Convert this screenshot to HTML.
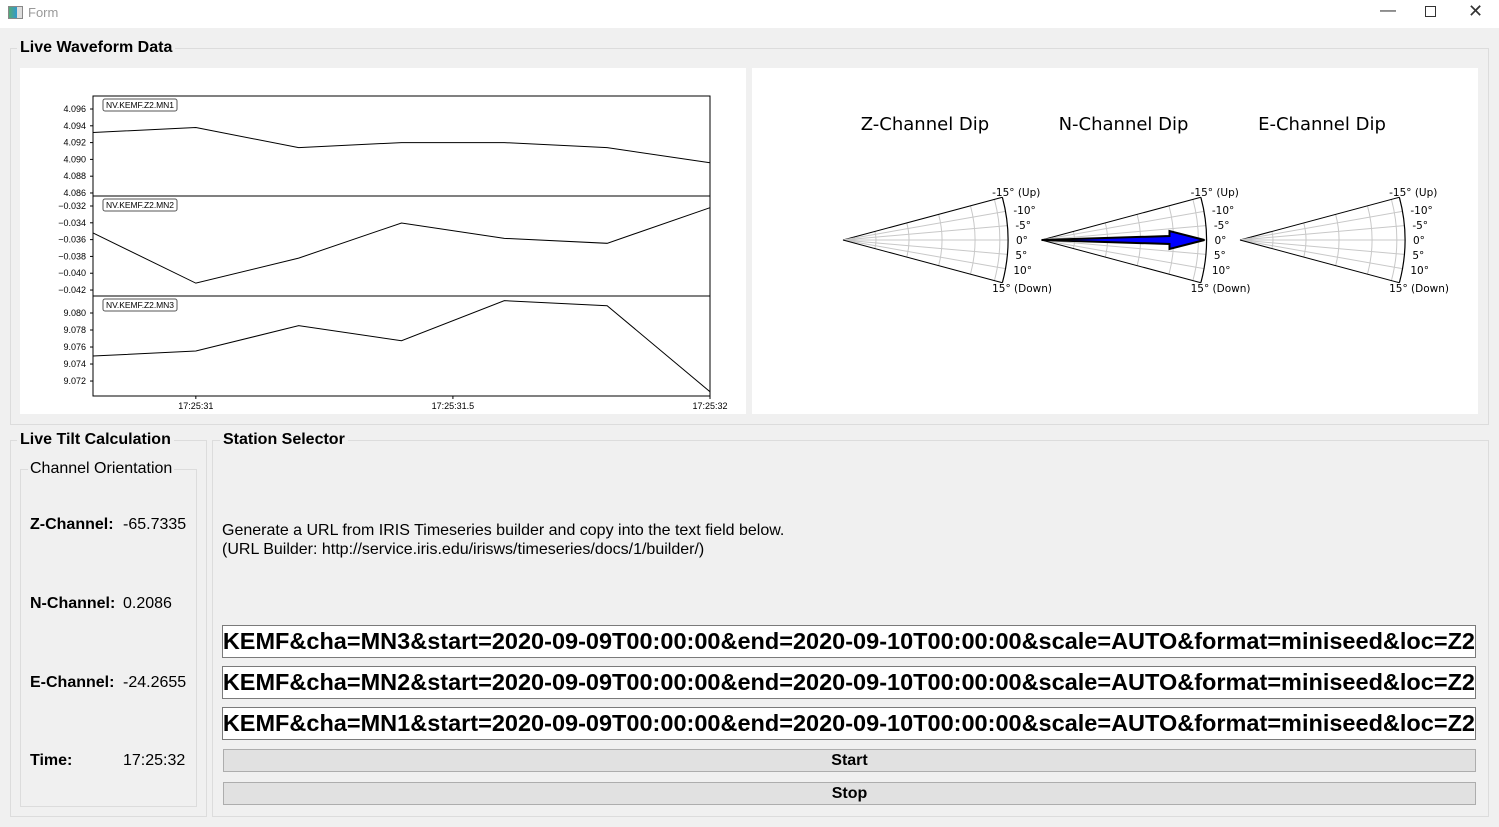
<!DOCTYPE html>
<html><head><meta charset="utf-8"><style>
body{margin:0;width:1499px;height:827px;background:#f0f0f0;font-family:"Liberation Sans",sans-serif;position:relative;overflow:hidden}
.abs{position:absolute}
.titlebar{left:0;top:0;width:1499px;height:28px;background:#fff}
.gb{position:absolute;border:1px solid #dcdcdc}
.gt{position:absolute;background:#f0f0f0;font-weight:bold;font-size:16px;padding:0 3px;color:#000}
.lbl{position:absolute;font-size:16px;color:#000}
.url{position:absolute;left:222px;width:1254px;height:33px;background:#fff;border:1px solid #7a7a7a;box-sizing:border-box;overflow:hidden;white-space:nowrap;font-weight:bold;font-size:23.5px;line-height:31px;direction:rtl;text-align:left;padding-left:2px}
.btn{position:absolute;left:223px;width:1253px;height:23px;background:#e1e1e1;border:1px solid #adadad;box-sizing:border-box;text-align:center;font-weight:bold;font-size:16px;line-height:21px}
</style></head><body>
<div class="abs titlebar">
  <div class="abs" style="left:8px;top:6px;width:13px;height:11px;border:1px solid #888;background:linear-gradient(90deg,#5a7 0,#39c 60%,#ddd 60%)"></div>
  <div class="abs" style="left:28px;top:5px;font-size:13px;color:#999">Form</div>
  <div class="abs" style="left:1380px;top:2px;font-size:16px;color:#333">—</div>
  <div class="abs" style="left:1425px;top:6px;width:9px;height:9px;border:1px solid #333"></div>
  <div class="abs" style="left:1468px;top:1px;font-size:18px;color:#333">✕</div>
</div>

<div class="gb" style="left:10px;top:48px;width:1477px;height:375px"></div>
<div class="gt" style="left:17px;top:39px">Live Waveform Data</div>
<div class="abs" style="left:20px;top:68px;width:726px;height:346px;background:#fff">
<svg id="wf" width="726" height="346"></svg>
</div>
<div class="abs" style="left:752px;top:68px;width:726px;height:346px;background:#fff">
<svg id="dip" width="726" height="346"></svg>
</div>

<div class="gb" style="left:10px;top:440px;width:195px;height:375px"></div>
<div class="gt" style="left:17px;top:431px">Live Tilt Calculation</div>
<div class="gb" style="left:20px;top:469px;width:175px;height:336px"></div>
<div class="lbl" style="left:28px;top:460px;background:#f0f0f0;padding:0 2px">Channel Orientation</div>
<div class="lbl" style="left:30px;top:516px;font-weight:bold">Z-Channel:</div>
<div class="lbl" style="left:123px;top:516px">-65.7335</div>
<div class="lbl" style="left:30px;top:595px;font-weight:bold">N-Channel:</div>
<div class="lbl" style="left:123px;top:595px">0.2086</div>
<div class="lbl" style="left:30px;top:674px;font-weight:bold">E-Channel:</div>
<div class="lbl" style="left:123px;top:674px">-24.2655</div>
<div class="lbl" style="left:30px;top:752px;font-weight:bold">Time:</div>
<div class="lbl" style="left:123px;top:752px">17:25:32</div>

<div class="gb" style="left:212px;top:440px;width:1275px;height:375px"></div>
<div class="gt" style="left:220px;top:431px">Station Selector</div>
<div class="lbl" style="left:222px;top:521px;line-height:19px">Generate a URL from IRIS Timeseries builder and copy into the text field below.<br>(URL Builder: http://service.iris.edu/irisws/timeseries/docs/1/builder/)</div>
<div class="url" style="top:625px">&#x202A;net=NV&amp;sta=KEMF&amp;cha=MN3&amp;start=2020-09-09T00:00:00&amp;end=2020-09-10T00:00:00&amp;scale=AUTO&amp;format=miniseed&amp;loc=Z2&#x202C;</div>
<div class="url" style="top:666px">&#x202A;net=NV&amp;sta=KEMF&amp;cha=MN2&amp;start=2020-09-09T00:00:00&amp;end=2020-09-10T00:00:00&amp;scale=AUTO&amp;format=miniseed&amp;loc=Z2&#x202C;</div>
<div class="url" style="top:707px">&#x202A;net=NV&amp;sta=KEMF&amp;cha=MN1&amp;start=2020-09-09T00:00:00&amp;end=2020-09-10T00:00:00&amp;scale=AUTO&amp;format=miniseed&amp;loc=Z2&#x202C;</div>
<div class="btn" style="top:749px">Start</div>
<div class="btn" style="top:782px">Stop</div>

<script>
const times=[30.8,31.0,31.2,31.4,31.6,31.8,32.0];
const labels=["NV.KEMF.Z2.MN1","NV.KEMF.Z2.MN2","NV.KEMF.Z2.MN3"];
const mn1=[4.0932,4.0938,4.0914,4.0920,4.0920,4.0914,4.0896];
const mn2=[-0.03521,-0.04118,-0.03820,-0.03402,-0.03585,-0.03644,-0.0322];
const mn3=[9.07494,9.07553,9.07851,9.07674,9.08145,9.08086,9.07074];
const yTicks1=[4.086,4.088,4.090,4.092,4.094,4.096];
const yTicks2=[-0.042,-0.040,-0.038,-0.036,-0.034,-0.032];
const yTicks3=[9.072,9.074,9.076,9.078,9.080];
const xTicks=[31,31.5,32];
const xTickLabels=["17:25:31","17:25:31.5","17:25:32"];
const yLims=[[4.08564,4.09755],[-0.04271,-0.03081],[9.07024,9.0820]];
const dipChannels=["Z-Channel Dip","N-Channel Dip","E-Channel Dip"];
const dipValues=[null,0,null];
const dipTicks=[-15,-10,-5,0,5,10,15];
const dipTickLabels=["-15° (Up)","-10°","-5°","0°","5°","10°","15° (Down)"];

const NS="http://www.w3.org/2000/svg";
function mk(p,t,a){const e=document.createElementNS(NS,t);for(const k in a)e.setAttribute(k,a[k]);p.appendChild(e);return e;}
const wf=document.getElementById('wf');
const L=73,R=690,T0=28,H=100;
const xs=t=>L+(t-30.8)/(32.0-30.8)*(R-L);
const series=[mn1,mn2,mn3],ticks=[yTicks1,yTicks2,yTicks3];
series.forEach((s,i)=>{
  const top=T0+i*H,lim=yLims[i];
  const ys=v=>top+H-(v-lim[0])/(lim[1]-lim[0])*H;
  const ax=mk(wf,'rect',{x:L,y:top,width:R-L,height:H,fill:'none',stroke:'#000','stroke-width':1});
  
  
  ticks[i].forEach(v=>{
    const y=ys(v);
    mk(wf,'line',{x1:L-3,x2:L,y1:y,y2:y,stroke:'#000'});
    const tx=mk(wf,'text',{x:L-7,y:y+3,'text-anchor':'end','font-size':9,'font-family':'Liberation Sans Narrow, Liberation Sans, sans-serif'});
    tx.textContent=(v<0?'\u2212'+(-v).toFixed(3):v.toFixed(3));
    
    
  });
  const pl=mk(wf,'polyline',{points:s.map((v,j)=>xs(times[j])+','+ys(v)).join(' '),fill:'none',stroke:'#000','stroke-width':1});
  
  
  const lb=mk(wf,'rect',{x:L+10,y:top+3,width:74,height:12,rx:2,fill:'#fff',stroke:'#555'});
  
  
  const lt=mk(wf,'text',{x:L+13,y:top+12,'font-size':8.5,textLength:68,'font-family':'Liberation Sans Narrow, Liberation Sans, sans-serif'});
  lt.textContent=labels[i];
  
  
});
xTicks.forEach((t,i)=>{
  const x=xs(t),yb=T0+3*H;
  mk(wf,'line',{x1:x,x2:x,y1:yb,y2:yb+3,stroke:'#000'});
  const tx=mk(wf,'text',{x:x,y:yb+13,'text-anchor':'middle','font-size':9,'font-family':'Liberation Sans Narrow, Liberation Sans, sans-serif'});
  tx.textContent=xTickLabels[i];
  
  
});

const dip=document.getElementById('dip');
const rad=165,cy=172;
dipChannels.forEach((name,i)=>{
  const cx=91+i*198.5;
  const g=mk(dip,'g',{});
  
  
  const pt=(a,r)=>[cx+r*Math.cos(a*Math.PI/180),cy+r*Math.sin(a*Math.PI/180)];
  [0.2,0.4,0.6,0.8,0.95].forEach(f=>{
    const a=pt(-15,rad*f),b=pt(15,rad*f);
    mk(g,'path',{d:`M${a[0]},${a[1]} A${rad*f},${rad*f} 0 0 1 ${b[0]},${b[1]}`,fill:'none',stroke:'#c8c8c8','stroke-width':1});
  });
  dipTicks.forEach(a=>{const p=pt(a,rad);mk(g,'line',{x1:cx,y1:cy,x2:p[0],y2:p[1],stroke:(Math.abs(a)==15?'#000':'#c8c8c8'),'stroke-width':1});});
  const a=pt(-15,rad),b=pt(15,rad);
  mk(g,'path',{d:`M${a[0]},${a[1]} A${rad},${rad} 0 0 1 ${b[0]},${b[1]}`,fill:'none',stroke:'#000','stroke-width':1.2});
  dipTicks.forEach((d,k)=>{
    const p=pt(d,rad+8);
    const tx=mk(g,'text',{x:p[0]-(Math.abs(d)==15?18:0),y:p[1]+4+(d==15?3:(d==-15?-3:0)),'font-size':10.5,'font-family':'DejaVu Sans, sans-serif'});
    tx.textContent=dipTickLabels[k];
    
    
  });
  const tt=mk(g,'text',{x:cx+82,y:62,'text-anchor':'middle','font-size':18,'font-family':'DejaVu Sans, sans-serif'});
  tt.textContent=name;
  
  
  const v=dipValues[i];
  if(v!==null){
    const ang=v*Math.PI/180,r=rad-2;
    const c=Math.cos(ang),s=Math.sin(ang),px=-s,py=c;
    const P=(along,off)=>(cx+c*along+px*off)+','+(cy+s*along+py*off);
    const ar=mk(g,'polygon',{points:[P(0,0),P(r-35,-4),P(r-35,-9),P(r,0),P(r-35,9),P(r-35,4)].join(' '),fill:'#0000ff',stroke:'#000','stroke-width':2});
    
    
  }
});
</script>
</body></html>
